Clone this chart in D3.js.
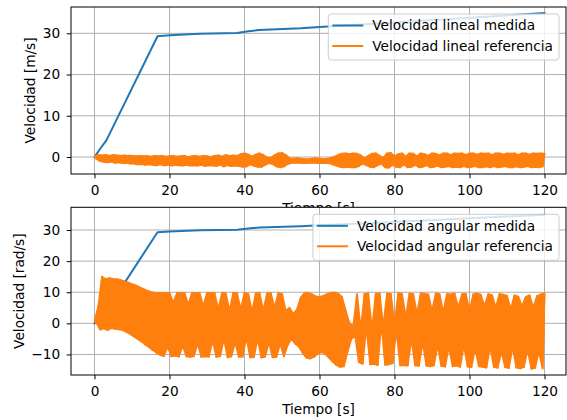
<!DOCTYPE html>
<html><head><meta charset="utf-8">
<script src="https://cdn.jsdelivr.net/npm/d3@7"></script>
<style>
body{margin:0;background:#fff}
svg{display:block}
text{font-family:"DejaVu Sans",sans-serif;fill:#000}
</style>
</head><body>
<svg id="chart" width="567" height="420"></svg>
<script>
// ---------- data ----------
const xTicks = [0, 20, 40, 60, 80, 100, 120];
const yTicksTop = [0, 10, 20, 30];
const yTicksBottom = [-10, 0, 10, 20, 30];

// measured velocity (same trajectory shown in both panels)
const measuredTime = [0, 1.5, 3.2, 16.8, 20, 28, 38, 41, 44, 55, 60, 80, 100, 120];
const linearMeasured = [0, 2, 4.1, 29.3, 29.5, 29.9, 30.1, 30.5, 30.8, 31.2, 31.5, 32.6, 33.8, 34.9];
const angularMeasured = [0, 2, 4.1, 29.3, 29.5, 29.9, 30.1, 30.5, 30.8, 31.2, 31.5, 32.6, 33.8, 34.9];

// reference signals: oscillation peaks at t = 0,1,2..120 s and troughs at t = 0.5,1.5..119.5 s
const linearRefPeaks = [0.2,0.5,0.4,0.5,0.3,0.5,0.4,0.3,0.4,0.3,0.3,0.2,0.3,0.2,0.3,0.1,0.3,0.2,0.3,0.1,
  0.2,0.3,0.1,0.2,0.3,0.0,0.2,0.3,0.1,0.3,0.2,0.0,0.3,0.4,0.1,0.5,0.2,0.4,0.3,0.7,
  0.9,0.6,0.1,0.6,0.9,0.5,-0.1,-0.2,0.4,0.9,1.0,0.5,-0.3,-0.4,-0.3,-0.4,-0.5,-0.5,-0.4,-0.3,
  -0.4,-0.5,-0.4,-0.2,0.1,0.5,0.8,0.9,0.7,0.9,0.8,0.4,-0.3,0.3,0.8,0.9,0.3,-0.2,0.9,1.0,
  0.2,0.7,0.9,0.1,0.9,0.8,0.2,0.9,0.7,0.3,0.9,0.8,0.4,0.9,0.9,0.5,0.9,0.8,0.9,0.5,
  0.9,0.9,0.6,0.9,0.8,0.9,0.5,0.9,0.9,0.6,0.9,0.8,0.9,0.5,0.9,0.9,0.6,0.9,0.8,0.9,0.8];
const linearRefTroughs = [-0.4,-1.0,-1.2,-1.3,-1.1,-1.4,-1.3,-1.5,-1.4,-1.6,-1.6,-1.8,-1.7,-1.9,-1.8,-1.9,-2.0,-1.8,-2.0,-1.9,
  -2.1,-1.9,-2.0,-2.1,-1.9,-2.1,-2.0,-2.1,-1.9,-2.2,-2.0,-2.1,-2.2,-1.9,-2.3,-2.0,-2.2,-2.1,-2.2,-2.4,
  -2.3,-1.8,-2.1,-2.4,-2.4,-1.9,-1.5,-1.7,-2.3,-2.5,-2.3,-1.7,-1.4,-1.4,-1.4,-1.5,-1.5,-1.4,-1.4,-1.5,
  -1.5,-1.4,-1.5,-1.8,-2.1,-2.4,-2.5,-2.4,-2.5,-2.5,-2.2,-1.6,-2.0,-2.4,-2.5,-2.0,-1.6,-2.5,-2.6,-1.9,
  -2.4,-2.5,-1.8,-2.5,-2.4,-1.9,-2.5,-2.4,-2.0,-2.5,-2.4,-2.1,-2.5,-2.4,-2.2,-2.5,-2.4,-2.5,-2.2,-2.5,
  -2.4,-2.2,-2.5,-2.5,-2.3,-2.5,-2.2,-2.5,-2.4,-2.2,-2.5,-2.5,-2.3,-2.5,-2.4,-2.2,-2.5,-2.4,-2.5,-2.3];

const angularRefPeaks = [0.8,5.4,15,14.2,14.5,14.3,14.2,13.9,13.5,13.1,12.6,12.2,11.6,11.1,10.5,10.1,9.9,9.8,9.8,9.7,
  9.8,6.5,9.8,9.7,9.8,6,9.8,9.7,9.8,5.5,9.8,9.7,9.8,4.5,9.8,9.6,4,9.8,9.7,4.5,
  9.8,9.5,3.5,9.7,9.8,4,9.6,9.8,5,9.7,9.5,4,5,3,4.5,8.3,9.7,9.8,9.3,8.7,
  8.5,8.8,9.4,9.8,9.9,9.5,8.5,4,0,-1,9.4,-2,9.5,9.6,-2,9.5,9.7,-1,9.6,9.5,
  0,9.7,9.5,2,9.6,9.4,3,9.7,9.5,9.3,4,9.6,9.4,3.5,9.5,9.3,9.6,5,9.4,9.5,
  4,9.3,9.6,9.2,5.5,9.4,9.1,5,9.5,9.2,8.8,4.5,9.0,8.6,5.5,8.5,9.0,5,8.8,9.3,9.6];
const angularRefTroughs = [0.2,-2,-1.6,-2.2,-1.5,-1.8,-1.9,-2.2,-2.8,-3.4,-4.2,-5,-5.8,-6.8,-7.6,-8.6,-9.4,-10.2,-10.5,-7.5,
  -10.6,-10.4,-10.7,-7,-10.6,-10.8,-10.5,-6.5,-10.8,-10.6,-10.7,-5.5,-10.8,-10.5,-5,-10.9,-10.6,-6,-10.8,-10.7,
  -4.5,-10.9,-10.8,-5,-11,-10.7,-6,-10.9,-10.8,-6.5,-10.6,-7,-5,-6.5,-7.5,-9.5,-11,-11.3,-10.8,-9.8,
  -9.3,-9.8,-11,-12.3,-13.4,-14,-13.8,-9,-5,-4,-12.5,-13,-1,-13.2,-13,-13.4,0,-13.3,-13.2,-12.8,
  -2,-13.5,-13.4,-13.6,-5,-13.5,-13.7,-6,-13.6,-13.8,-13.5,-7,-13.7,-13.9,-7.5,-13.8,-13.6,-14,-7,-13.9,
  -14.1,-8,-13.8,-14,-14.2,-7.5,-14,-14.3,-9,-14.1,-14.4,-7.5,-14.2,-14.5,-14,-8.5,-14.6,-14.3,-9,-14.5];

const legendTop = ["Velocidad lineal medida", "Velocidad lineal referencia"];
const legendBottom = ["Velocidad angular medida", "Velocidad angular referencia"];

// ---------- drawing ----------
const BLUE = "#1f77b4", ORANGE = "#ff7f0e";
const FS = 13.7;
const svg = d3.select("#chart");
const left = 71, right = 566;
const x = d3.scaleLinear().domain([-6.27, 125.73]).range([left, right]);

// the oscillation is far denser than a pixel: it is drawn as the zigzag through
// its peaks and troughs plus the band those same points enclose
function oscillation(peaks, troughs) {
  const pts = [];
  peaks.forEach((v, i) => {
    pts.push([i, v]);
    if (i < troughs.length) pts.push([i + 0.5, troughs[i]]);
  });
  return pts;
}
function band(peaks, troughs) {
  return peaks.map((v, i) => [i, v]).concat(troughs.map((v, i) => [i + 0.5, v]).reverse());
}

function panel(cfg) {
  const g = svg.append("g");
  const y = d3.scaleLinear().domain(cfg.yDomain).range([cfg.bottom, cfg.top]);
  const id = "clip" + cfg.key;
  svg.append("clipPath").attr("id", id).append("rect")
    .attr("x", left).attr("y", cfg.top).attr("width", right - left).attr("height", cfg.bottom - cfg.top);

  g.append("rect").attr("x", left).attr("y", cfg.top).attr("width", right - left)
    .attr("height", cfg.bottom - cfg.top).attr("fill", "#fff");

  // grid
  g.append("g").selectAll("line").data(xTicks).join("line")
    .attr("x1", d => x(d)).attr("x2", d => x(d)).attr("y1", cfg.top).attr("y2", cfg.bottom)
    .attr("stroke", "#b0b0b0").attr("stroke-width", 1);
  g.append("g").selectAll("line").data(cfg.yTicks).join("line")
    .attr("y1", d => y(d)).attr("y2", d => y(d)).attr("x1", left).attr("x2", right)
    .attr("stroke", "#b0b0b0").attr("stroke-width", 1);

  const lines = g.append("g").attr("clip-path", `url(#${id})`);
  const line = d3.line().x(d => x(d[0])).y(d => y(d[1]));
  lines.append("path").datum(measuredTime.map((t, i) => [t, cfg.measured[i]]))
    .attr("d", line).attr("fill", "none").attr("stroke", BLUE).attr("stroke-width", 2)
    .attr("stroke-linejoin", "round").attr("stroke-linecap", "square");
  lines.append("path").datum(band(cfg.peaks, cfg.troughs))
    .attr("d", d => line(d) + "Z").attr("fill", ORANGE).attr("stroke", ORANGE)
    .attr("stroke-width", 1.8).attr("stroke-linejoin", "round");
  lines.append("path").datum(oscillation(cfg.peaks, cfg.troughs))
    .attr("d", line).attr("fill", "none").attr("stroke", ORANGE).attr("stroke-width", 1.8)
    .attr("stroke-linejoin", "round");

  // spines
  g.append("rect").attr("x", left).attr("y", cfg.top).attr("width", right - left)
    .attr("height", cfg.bottom - cfg.top).attr("fill", "none").attr("stroke", "#000").attr("stroke-width", 1);

  // axes
  const xa = g.append("g").attr("transform", `translate(0,${cfg.bottom})`)
    .call(d3.axisBottom(x).tickValues(xTicks).tickSize(4.3).tickPadding(6.5));
  const ya = g.append("g").attr("transform", `translate(${left},0)`)
    .call(d3.axisLeft(y).tickValues(cfg.yTicks).tickSize(4.3).tickPadding(6.5)
      .tickFormat(d => d < 0 ? "\u2212" + Math.abs(d) : String(d)));
  [xa, ya].forEach(a => {
    a.select(".domain").remove();
    a.selectAll("text").attr("font-size", FS).attr("font-family", "DejaVu Sans").attr("fill", "#000");
    a.selectAll("line").attr("stroke", "#000").attr("stroke-width", 1);
  });

  g.append("text").attr("x", (left + right) / 2).attr("y", cfg.bottom + 39)
    .attr("text-anchor", "middle").attr("font-size", FS).text("Tiempo [s]");
  g.append("text").attr("transform", `translate(${cfg.ylabelX},${(cfg.top + cfg.bottom) / 2}) rotate(-90)`)
    .attr("text-anchor", "middle").attr("font-size", FS).text(cfg.ylabel);

  // legend
  const lg = g.append("g");
  const texts = cfg.legend.map((s, i) => lg.append("text").attr("font-size", FS).attr("dy", "0.35em").text(s));
  const tw = d3.max(texts, t => t.node().getComputedTextLength());
  const bw = 4 + 31 + 9 + tw + 6, bh = 46;
  const bx = right - 7 - bw, by = cfg.top + 7;
  lg.insert("rect", "text").attr("x", bx).attr("y", by).attr("width", bw).attr("height", bh)
    .attr("rx", 3).attr("fill", "#fff").attr("fill-opacity", 0.8)
    .attr("stroke", "#cccccc").attr("stroke-width", 1);
  [BLUE, ORANGE].forEach((c, i) => {
    const yy = by + 11.5 + i * 20.5;
    lg.append("line").attr("x1", bx + 4).attr("x2", bx + 35).attr("y1", yy).attr("y2", yy)
      .attr("stroke", c).attr("stroke-width", 2);
    texts[i].attr("x", bx + 44).attr("y", yy);
  });
}

panel({ key: "a", top: 7, bottom: 174, yDomain: [-4.12, 36.38], yTicks: yTicksTop,
  measured: linearMeasured, peaks: linearRefPeaks, troughs: linearRefTroughs,
  ylabel: "Velocidad [m/s]", ylabelX: 35, legend: legendTop });
panel({ key: "b", top: 207.3, bottom: 375, yDomain: [-16.6, 37.3], yTicks: yTicksBottom,
  measured: angularMeasured, peaks: angularRefPeaks, troughs: angularRefTroughs,
  ylabel: "Velocidad [rad/s]", ylabelX: 23.5, legend: legendBottom });
</script>
</body></html>
